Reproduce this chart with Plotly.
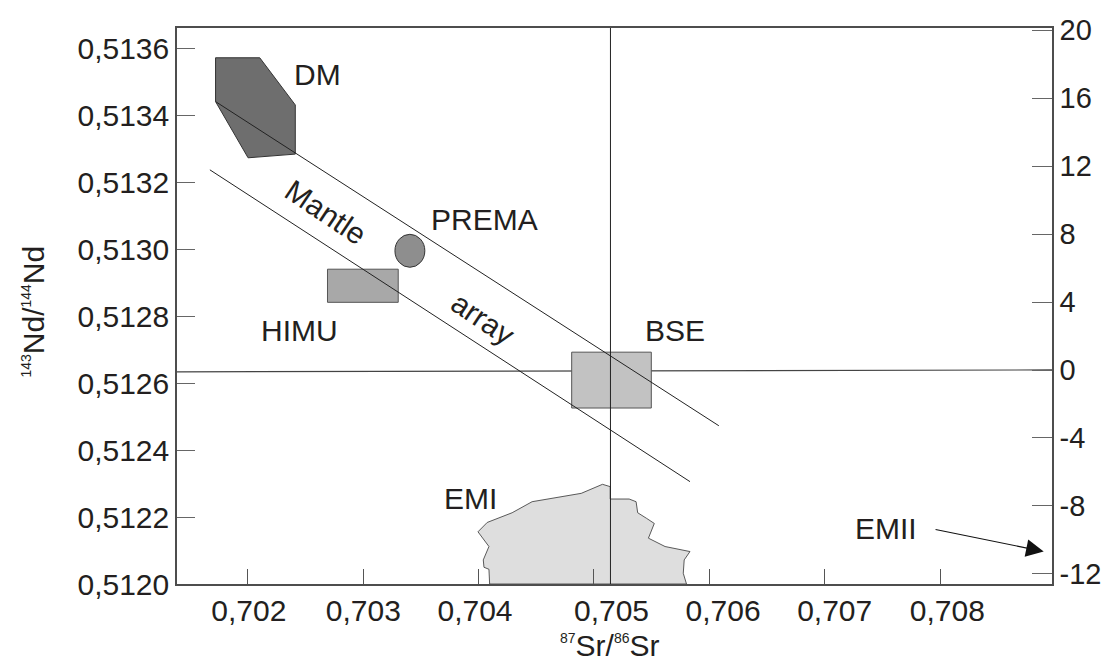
import plotly.graph_objects as go

# ---------------- data ----------------
x_ticks = [0.702, 0.703, 0.704, 0.705, 0.706, 0.707, 0.708]
x_tick_labels = ["0,702", "0,703", "0,704", "0,705", "0,706", "0,707", "0,708"]
# the printed labels are not exactly under the tick marks in the original
x_label_pos = [0.702009, 0.703002, 0.703969, 0.705152, 0.706119, 0.707086, 0.708062]

y_ticks = [0.5120, 0.5122, 0.5124, 0.5126, 0.5128, 0.5130, 0.5132, 0.5134, 0.5136]
y_tick_labels = ["0,5120", "0,5122", "0,5124", "0,5126", "0,5128",
                 "0,5130", "0,5132", "0,5134", "0,5136"]

eps_ticks = [-12, -8, -4, 0, 4, 8, 12, 16, 20]
eps_tick_labels = ["-12", "-8", "-4", "0", "4", "8", "12", "16", "20"]

x_range = [0.701387, 0.708969]
y_range = [0.5120, 0.513662]
eps_range = [-12.59, 20.12]

# CHUR (eps Nd = 0) horizontal line and BSE Sr vertical line
chur_x = [0.701387, 0.708969]
chur_y = [0.512634, 0.512640]
bse_sr_x = [0.705143, 0.705143]
bse_sr_y = [0.5120, 0.513662]

# Depleted mantle field
dm_x = [0.701721, 0.702104, 0.702412, 0.702412, 0.702003, 0.701721]
dm_y = [0.513573, 0.513573, 0.513432, 0.513285, 0.513274, 0.513442]

# Mantle array boundary lines
array_upper_x = [0.701721, 0.706082]
array_upper_y = [0.513442, 0.512473]
array_lower_x = [0.701672, 0.705832]
array_lower_y = [0.513238, 0.512306]

# PREMA (ellipse centre and half-sizes)
prema_cx, prema_cy = 0.703405, 0.512996
prema_rx, prema_ry = 0.0001295, 0.0000493

# HIMU and BSE boxes: x0, x1, y0, y1
himu_box = [0.702691, 0.703304, 0.512842, 0.512941]
bse_box = [0.704807, 0.705497, 0.512526, 0.512693]

# EMI field
emi_x = [0.704096, 0.704090, 0.704047, 0.704041, 0.704090, 0.703995, 0.704075,
         0.704291, 0.704464, 0.704890, 0.705074, 0.705141, 0.705141, 0.705305,
         0.705365, 0.705379, 0.705457, 0.705523, 0.705472, 0.705616, 0.705832,
         0.705782, 0.705774, 0.705802]
emi_y = [0.512000, 0.512044, 0.512050, 0.512072, 0.512112, 0.512156, 0.512184,
         0.512213, 0.512246, 0.512271, 0.512298, 0.512291, 0.512254, 0.512254,
         0.512246, 0.512213, 0.512196, 0.512181, 0.512137, 0.512112, 0.512097,
         0.512072, 0.512032, 0.512000]

# EMII arrow (tail -> head)
emii_tail = (0.707947, 0.512164)
emii_head = (0.708897, 0.512097)

# labels: text, x, y, anchor, angle
labels = [
    ("DM", 0.702380, 0.513522, "left", 0),
    ("PREMA", 0.703572, 0.513091, "left", 0),
    ("HIMU", 0.702449, 0.512759, "center", 0),
    ("BSE", 0.705705, 0.512759, "center", 0),
    ("EMI", 0.703934, 0.512257, "center", 0),
    ("EMII", 0.707527, 0.512167, "center", 0),
    ("Mantle", 0.702682, 0.513112, "center", 34),
    ("array", 0.704038, 0.512795, "center", 34),
]

# ---------------- styling ----------------
FONT = "Liberation Sans, Arial, sans-serif"
TXT = "#231f20"
EDGE = "#333333"

fig = go.Figure()


def closed(seq):
    return list(seq) + [seq[0]]


def box_xy(b):
    x0, x1, y0, y1 = b
    return [x0, x1, x1, x0, x0], [y0, y0, y1, y1, y0]


common = dict(mode="lines", hoverinfo="skip", showlegend=False)

fig.add_trace(go.Scatter(x=chur_x, y=chur_y, line=dict(color="#444", width=1.2), **common))

fig.add_trace(go.Scatter(x=closed(dm_x), y=closed(dm_y), fill="toself", fillcolor="#6e6e6e",
                         line=dict(color=EDGE, width=1), **common))

hx, hy = box_xy(himu_box)
fig.add_trace(go.Scatter(x=hx, y=hy, fill="toself", fillcolor="#a8a8a8",
                         line=dict(color="#555", width=1), **common))

bx, by = box_xy(bse_box)
fig.add_trace(go.Scatter(x=bx, y=by, fill="toself", fillcolor="#c2c2c2",
                         line=dict(color="#555", width=1), **common))

fig.add_trace(go.Scatter(x=closed(emi_x), y=closed(emi_y), fill="toself", fillcolor="#dedede",
                         line=dict(color=EDGE, width=0.8), **common))

fig.add_trace(go.Scatter(x=array_upper_x, y=array_upper_y, line=dict(color="#222", width=1), **common))
fig.add_trace(go.Scatter(x=array_lower_x, y=array_lower_y, line=dict(color="#222", width=1), **common))

fig.add_trace(go.Scatter(x=bse_sr_x, y=bse_sr_y, line=dict(color="#222", width=1), **common))

# invisible traces that create the overlay axes (label axis and eps Nd axis)
fig.add_trace(go.Scatter(x=[x_range[0]], y=[y_range[0]], xaxis="x2", yaxis="y",
                         mode="markers", marker=dict(opacity=0), hoverinfo="skip", showlegend=False))
fig.add_trace(go.Scatter(x=[x_range[0]], y=[eps_range[0]], xaxis="x", yaxis="y2",
                         mode="markers", marker=dict(opacity=0), hoverinfo="skip", showlegend=False))

# PREMA ellipse
fig.add_shape(type="circle", xref="x", yref="y",
              x0=prema_cx - prema_rx, x1=prema_cx + prema_rx,
              y0=prema_cy - prema_ry, y1=prema_cy + prema_ry,
              fillcolor="#8e8e8e", line=dict(color=EDGE, width=1), layer="above")

for t, x, y, anc, ang in labels:
    fig.add_annotation(x=x, y=y, xref="x", yref="y", text=t, showarrow=False,
                       xanchor=anc, yanchor="middle", textangle=ang,
                       font=dict(family=FONT, size=30, color=TXT))

fig.add_annotation(x=emii_head[0], y=emii_head[1], ax=emii_tail[0], ay=emii_tail[1],
                   xref="x", yref="y", axref="x", ayref="y", text="",
                   showarrow=True, arrowhead=2, arrowsize=3.2, arrowwidth=1.1,
                   arrowcolor="#111", standoff=0, startstandoff=0)

# axis titles
sup = '<span style="font-size:14px">'
fig.add_annotation(x=-0.1651, y=0.4892, xref="paper", yref="paper", showarrow=False,
                   textangle=-90, xanchor="center", yanchor="middle",
                   text=f"<sup>{sup}143</span></sup>Nd/<sup>{sup}144</span></sup>Nd",
                   font=dict(family=FONT, size=30, color=TXT))
fig.add_annotation(x=0.4954, y=-0.1115, xref="paper", yref="paper", showarrow=False,
                   xanchor="center", yanchor="middle",
                   text=f"<sup>{sup}87</span></sup>Sr/<sup>{sup}86</span></sup>Sr",
                   font=dict(family=FONT, size=30, color=TXT))

AX = "#4d4d4d"
fig.update_layout(
    width=1113, height=661,
    margin=dict(l=177, r=58, t=28, b=77),
    paper_bgcolor="white", plot_bgcolor="white",
    showlegend=False,
    xaxis=dict(range=x_range, tickvals=x_ticks, showticklabels=False,
               ticks="inside", ticklen=15, tickwidth=1, tickcolor="#555",
               showline=True, linecolor=AX, linewidth=1.5, mirror=True,
               showgrid=False, zeroline=False, fixedrange=True),
    xaxis2=dict(range=x_range, overlaying="x", anchor="y", side="bottom",
                tickvals=x_label_pos, ticktext=x_tick_labels, ticks="",
                showline=False, showgrid=False, zeroline=False,
                tickfont=dict(family=FONT, size=30, color=TXT),
                ticklabelstandoff=6),
    yaxis=dict(range=y_range, tickvals=y_ticks, ticktext=y_tick_labels,
               ticks="inside", ticklen=18, tickwidth=1, tickcolor="#666",
               showline=True, linecolor=AX, linewidth=1.5, mirror=False,
               showgrid=False, zeroline=False,
               tickfont=dict(family=FONT, size=30, color=TXT)),
    yaxis2=dict(range=eps_range, overlaying="y", anchor="x", side="right",
                tickvals=eps_ticks, ticktext=eps_tick_labels,
                ticks="inside", ticklen=20, tickwidth=1, tickcolor="#666",
                showline=True, linecolor=AX, linewidth=1.5,
                showgrid=False, zeroline=False,
                tickfont=dict(family=FONT, size=29, color=TXT)),
)

fig.write_html("out.html", config={"displayModeBar": False},
               post_script="document.body.style.margin='0';")
